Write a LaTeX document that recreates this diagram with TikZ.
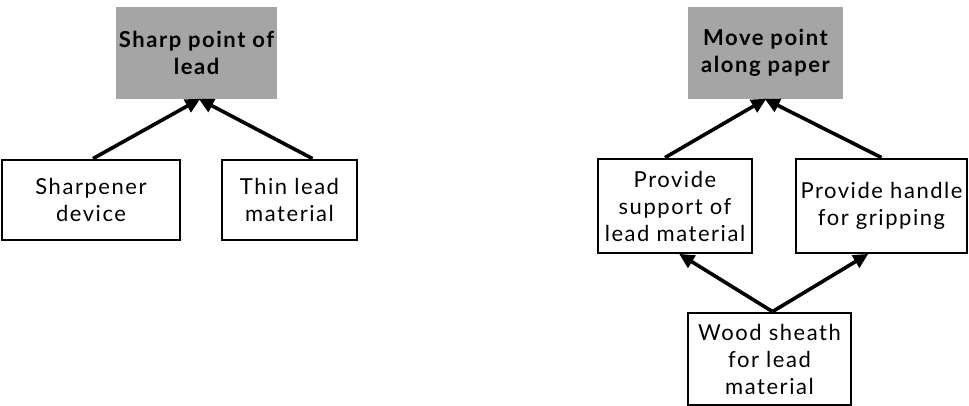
\documentclass[tikz,border=0pt]{standalone}
\usepackage{fontspec}
\setmainfont{Lato}[LetterSpace=7]
\usetikzlibrary{arrows.meta}
\definecolor{goalgray}{RGB}{165,165,165}
\begin{document}
\begin{tikzpicture}[x=1pt,y=-1pt,
  goal/.style={fill=goalgray, draw=none, align=center, inner sep=0pt,
    font=\fontsize{22}{27}\selectfont\bfseries},
  means/.style={draw=black, line width=2.8pt, fill=white, align=center, inner sep=0pt,
    font=\fontsize{22}{27}\selectfont},
  link/.style={line width=3.6pt, -{Triangle[length=15pt,width=14pt]}, shorten >=-1pt}
]
\useasboundingbox (0,0) rectangle (969,406);

% left tree: sharp point of lead
\node[goal, minimum width=161pt, minimum height=92pt] (sharp) at (196.5,53) {Sharp point of\\lead};
\node[means, minimum width=178pt, minimum height=80pt] (sharpener) at (91,200) {Sharpener\\device};
\node[means, minimum width=135pt, minimum height=80pt] (thin) at (289.5,200) {Thin lead\\material};

\draw[link] ([xshift=2pt]sharpener.north) -- ([xshift=3pt]sharp.south);
\draw[link] ([xshift=23pt]thin.north) -- ([xshift=3pt]sharp.south);

% right tree: move point along paper
\node[goal, minimum width=155pt, minimum height=92pt] (move) at (765.5,53) {Move point\\along paper};
\node[means, minimum width=154pt, minimum height=94pt] (support) at (675,206) {Provide\\support of\\lead material};
\node[means, minimum width=171pt, minimum height=94pt] (handle) at (881.5,206) {Provide handle\\for gripping};
\node[means, minimum width=163pt, minimum height=92pt] (wood) at (769.5,359) {Wood sheath\\for lead\\material};

\draw[link] ([xshift=-10pt]support.north) -- (move.south);
\draw[link] (handle.north) -- (move.south);
\draw[link] ([xshift=3pt]wood.north) -- ([xshift=5pt]support.south);
\draw[link] ([xshift=3pt]wood.north) -- ([xshift=-14pt]handle.south);
\end{tikzpicture}
\end{document}
